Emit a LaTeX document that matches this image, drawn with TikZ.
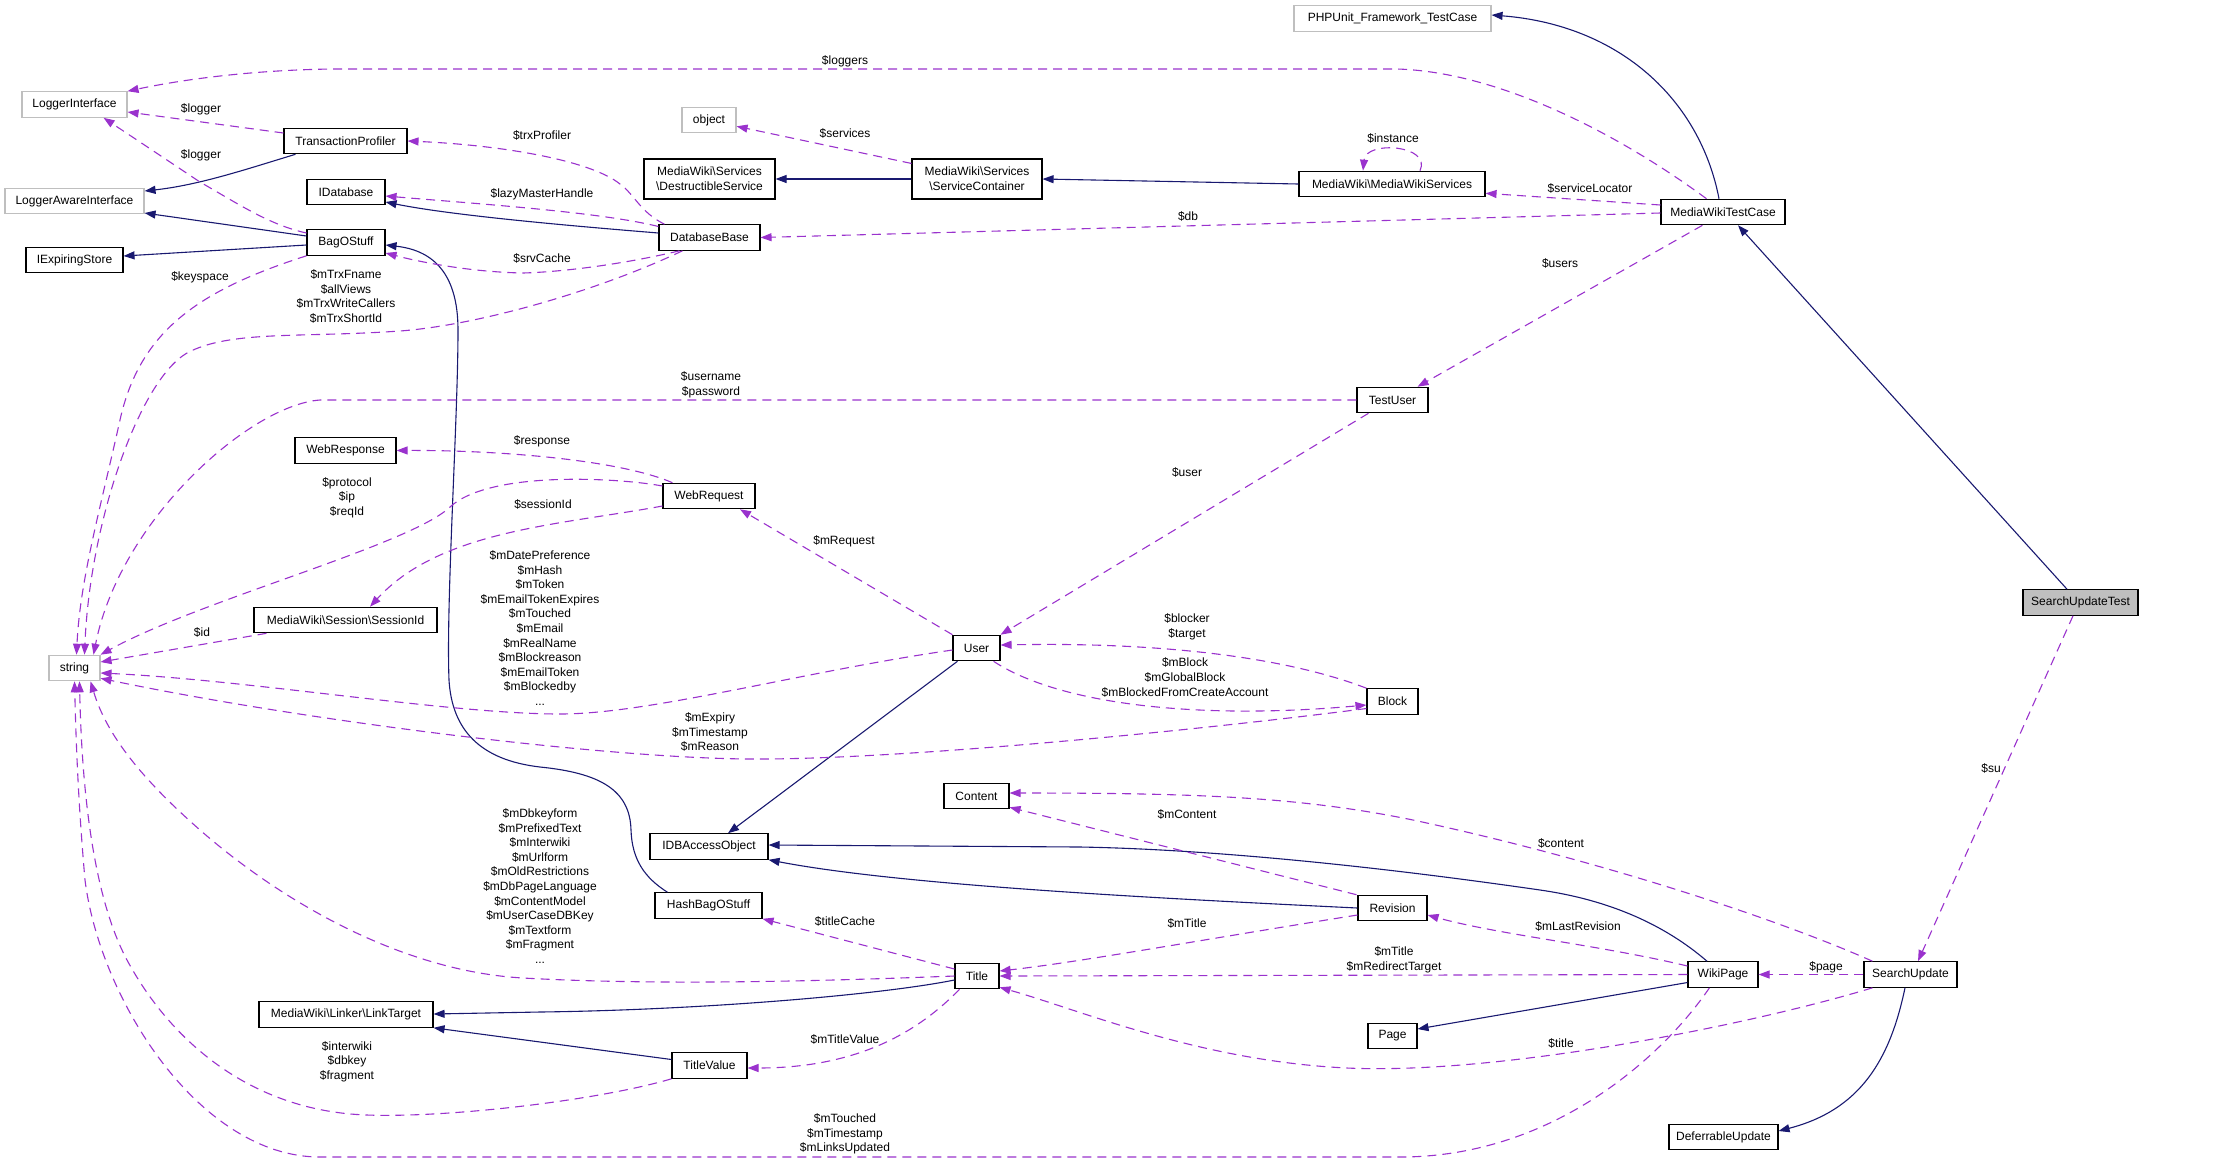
\documentclass[tikz,border=0pt]{standalone}
\usepackage{fontspec}
\setmainfont{Liberation Sans}
\usetikzlibrary{arrows.meta}
\definecolor{navy}{HTML}{191970}
\definecolor{orch}{HTML}{9A32CD}
\definecolor{lgray}{HTML}{BFBFBF}
\begin{document}
\begin{tikzpicture}[x=1pt,y=-1pt,
  font=\fontsize{12}{14.6}\selectfont,
  cls/.style={draw=black,line width=1.1pt,fill=white,inner sep=0pt,minimum height=25.5pt,align=center},
  gcls/.style={cls,draw=lgray},
  cur/.style={cls,fill=lgray},
  inh/.style={draw=navy,line width=1.1pt,-{Triangle[length=11pt,width=8pt]}},
  prop/.style={draw=orch,line width=1.1pt,dash pattern=on 9pt off 6pt,-{Triangle[length=11pt,width=8pt]}},
  lbl/.style={inner sep=0pt,align=center}]
\useasboundingbox (0,0) rectangle (2213,1163);
% nodes
\node[gcls,minimum width=105pt] (LI) at (74.5,104.5) {LoggerInterface};
\node[cls,minimum width=123pt] (TP) at (345.5,141) {TransactionProfiler};
\node[gcls,minimum width=139pt] (LAI) at (74.5,201) {LoggerAwareInterface};
\node[cls,minimum width=78pt] (IDb) at (346,192) {IDatabase};
\node[cls,minimum width=78pt] (BOS) at (346,242.5) {BagOStuff};
\node[cls,minimum width=97pt] (IES) at (74.5,260) {IExpiringStore};
\node[gcls,minimum width=54pt] (Obj) at (709,120) {object};
\node[cls,minimum width=131pt,minimum height=40pt] (DS) at (709.5,179) {MediaWiki\textbackslash Services\\\textbackslash DestructibleService};
\node[cls,minimum width=130pt,minimum height=40pt] (SC) at (977,179) {MediaWiki\textbackslash Services\\\textbackslash ServiceContainer};
\node[cls,minimum width=101pt] (DB) at (709.5,237.5) {DatabaseBase};
\node[gcls,minimum width=197pt] (PHP) at (1392.5,18.5) {PHPUnit\_Framework\_TestCase};
\node[cls,minimum width=186pt] (MWS) at (1392,184) {MediaWiki\textbackslash MediaWikiServices};
\node[cls,minimum width=124pt] (MWTC) at (1723,212) {MediaWikiTestCase};
\node[cls,minimum width=71pt] (TU) at (1392.5,400) {TestUser};
\node[cur,minimum width=115pt] (SUT) at (2080.5,602.5) {SearchUpdateTest};
\node[cls,minimum width=101pt] (WRs) at (345.5,450.5) {WebResponse};
\node[cls,minimum width=183pt] (SID) at (345.5,620) {MediaWiki\textbackslash Session\textbackslash SessionId};
\node[gcls,minimum width=51pt] (Str) at (74.5,668) {string};
\node[cls,minimum width=92pt] (WR) at (709,496) {WebRequest};
\node[cls,minimum width=47pt] (User) at (976.5,648) {User};
\node[cls,minimum width=51pt] (Block) at (1392.5,701.5) {Block};
\node[cls,minimum width=174pt] (LT) at (346,1014.5) {MediaWiki\textbackslash Linker\textbackslash LinkTarget};
\node[cls,minimum width=65pt] (Cont) at (976.5,796) {Content};
\node[cls,minimum width=118pt] (IDBA) at (709,846.5) {IDBAccessObject};
\node[cls,minimum width=107pt] (HBS) at (708.5,905.5) {HashBagOStuff};
\node[cls,minimum width=44pt] (Title) at (977,976) {Title};
\node[cls,minimum width=75pt] (TV) at (709.5,1065.5) {TitleValue};
\node[cls,minimum width=69pt] (Rev) at (1392.5,908) {Revision};
\node[cls,minimum width=49pt] (Page) at (1392.5,1036) {Page};
\node[cls,minimum width=70pt] (WP) at (1723,974.5) {WikiPage};
\node[cls,minimum width=93pt] (SU) at (1910.5,974.5) {SearchUpdate};
\node[cls,minimum width=109pt] (DU) at (1723.5,1137) {DeferrableUpdate};
% inheritance
\draw[inh] ([xshift=12pt]TP.south west) .. controls (250,168) and (200,185) .. ([yshift=10pt]LAI.east);
\draw[inh] ([yshift=6.5pt]BOS.west) -- ([yshift=-12pt]LAI.east);
\draw[inh] ([yshift=-2.5pt]BOS.west) -- ([yshift=4pt]IES.east);
\draw[inh] ([yshift=4.5pt]DB.west) .. controls (560,225) and (450,215) .. ([yshift=-10pt]IDb.east);
\draw[inh] ([xshift=13pt]HBS.north west) .. controls (645,878) and (632,860) .. (631,830) .. controls (630,790) and (600,773) .. (540,767) .. controls (480,760) and (452,730) .. (449,680) .. controls (446,600) and (458,420) .. (458,330) .. controls (458,270) and (430,250) .. ([yshift=-2.5pt]BOS.east);
\draw[inh] ([xshift=5pt]User.south west) -- ([xshift=19pt]IDBA.north);
\draw[inh] ([xshift=-16pt]WP.north) .. controls (1665,925) and (1610,900) .. (1540,890) .. controls (1450,877) and (1250,850) .. (1080,847) -- ([yshift=1.5pt]IDBA.east);
\draw[inh] (Rev.west) .. controls (1150,898) and (900,885) .. (IDBA.south east);
\draw[inh] ([yshift=-4pt]Title.west) .. controls (880,995) and (700,1010) .. (540,1012) -- ([yshift=0.5pt]LT.east);
\draw[inh] ([yshift=6pt]TV.west) -- (LT.south east);
\draw[inh] ([yshift=-8pt]WP.west) -- ([yshift=7pt]Page.east);
\draw[inh] ([xshift=-5.5pt]SU.south) .. controls (1890,1060) and (1860,1110) .. ([yshift=6pt]DU.east);
\draw[inh] ([xshift=-4pt]MWTC.north) .. controls (1700,100) and (1620,25) .. ([yshift=3.5pt]PHP.east);
\draw[inh] ([xshift=-13.5pt]SUT.north) -- ([xshift=15pt]MWTC.south);
\draw[inh] (MWS.west) -- (SC.east);
\draw[inh] (SC.west) -- (DS.east);
% properties
\draw[prop] ([xshift=46pt]MWTC.north west) .. controls (1620,135) and (1500,72) .. (1397,69) -- (333,69) .. controls (250,70) and (180,80) .. (LI.north east);
\draw[prop] ([yshift=8pt]TP.west) -- ([yshift=-7.5pt]LI.east);
\draw[prop] ([yshift=9.5pt]BOS.west) .. controls (270,225) and (240,205) .. (200,182) -- ([xshift=-24pt]LI.south east);
\draw[prop] ([xshift=6pt]DB.north west) .. controls (640,212) and (635,195) .. (620,184) .. controls (590,160) and (500,145) .. (TP.east);
\draw[prop] ([yshift=11pt]DB.west) .. controls (600,212) and (480,204) .. ([yshift=-4pt]IDb.east);
\draw[prop] ([xshift=21pt]DB.south west) .. controls (620,265) and (560,272) .. (523,273) .. controls (470,272) and (420,262) .. ([yshift=-10.5pt]BOS.east);
\draw[prop] ([xshift=24pt]DB.south west) .. controls (600,290) and (480,325) .. (400,331) .. controls (300,338) and (230,330) .. (187,353) .. controls (140,380) and (90,520) .. ([xshift=10pt]Str.north);
\draw[prop] (BOS.south west) .. controls (200,290) and (140,330) .. (120,420) .. controls (100,510) and (80,580) .. ([xshift=2pt]Str.north);
\draw[prop] (TU.west) -- (320,400) .. controls (250,405) and (120,520) .. ([xshift=19pt]Str.north);
\draw[prop] ([xshift=10pt]WR.north west) .. controls (620,460) and (500,450) .. (WRs.east);
\draw[prop] ([yshift=-10pt]WR.west) .. controls (560,525) and (440,530) .. ([xshift=24.5pt]SID.north);
\draw[prop] ([yshift=10pt]WR.west) .. controls (620,478) and (490,470) .. (450,507) .. controls (410,545) and (200,600) .. (Str.north east);
\draw[prop] ([xshift=13pt]SID.south west) -- ([yshift=6pt]Str.east);
\draw[prop] (User.north west) -- ([xshift=31pt]WR.south);
\draw[prop] ([xshift=12pt]TU.south west) -- (User.north east);
\draw[prop] ([xshift=42pt]MWTC.south west) -- ([xshift=-11pt]TU.north east);
\draw[prop] ([yshift=-2pt]User.west) .. controls (800,672) and (650,714) .. (560,714) .. controls (450,714) and (250,680) .. ([yshift=-5pt]Str.east);
\draw[prop] (Block.north west) .. controls (1280,655) and (1150,642) .. ([yshift=3pt]User.east);
\draw[prop] ([xshift=-7pt]User.south east) .. controls (1060,705) and (1200,720) .. ([yshift=-3.5pt]Block.west);
\draw[prop] ([yshift=-7pt]Block.west) .. controls (1200,730) and (900,760) .. (750,759) .. controls (600,758) and (300,720) .. ([yshift=3pt]Str.south east);
\draw[prop] (Title.west) .. controls (800,982) and (650,985) .. (523,978) .. controls (400,971) and (280,900) .. (200,830) .. controls (150,786) and (108,740) .. ([xshift=-10pt]Str.south east);
\draw[prop] ([yshift=7pt]Title.west) -- (HBS.south east);
\draw[prop] ([xshift=5pt]Title.south west) .. controls (920,1030) and (860,1068) .. ([yshift=-2.5pt]TV.east);
\draw[prop] (TV.south west) .. controls (600,1100) and (450,1118) .. (367,1115) .. controls (250,1111) and (170,1040) .. (127,960) .. controls (95,900) and (82,800) .. ([xshift=5pt]Str.south);
\draw[prop] ([xshift=22pt]WP.south west) .. controls (1660,1060) and (1550,1157) .. (1400,1157) -- (320,1157) .. controls (200,1157) and (100,1000) .. (85,880) .. controls (78,800) and (76,740) .. (Str.south);
\draw[prop] ([xshift=-1pt]Rev.north west) -- ([yshift=2pt]Cont.south east);
\draw[prop] ([yshift=-7pt]Rev.west) .. controls (1200,940) and (1080,962) .. ([yshift=5pt]Title.east);
\draw[prop] ([yshift=8.5pt]WP.west) .. controls (1600,945) and (1500,935) .. ([yshift=-7pt]Rev.east);
\draw[prop] (WP.west) -- (Title.east);
\draw[prop] (SU.west) -- (WP.east);
\draw[prop] ([xshift=9pt]SU.north west) .. controls (1780,920) and (1600,860) .. (1413,820) .. controls (1300,797) and (1200,793) .. ([yshift=3pt]Cont.east);
\draw[prop] ([xshift=9pt]SU.south west) .. controls (1750,1025) and (1500,1075) .. (1347,1068) .. controls (1200,1061) and (1080,1010) .. ([yshift=2pt]Title.south east);
\draw[prop] ([xshift=-7.5pt]SUT.south) -- ([xshift=7.5pt]SU.north);
\draw[prop] ([xshift=28pt]MWS.north) .. controls (1432,145) and (1366,140) .. ([xshift=-29pt]MWS.north);
\draw[prop] ([yshift=-5pt]SC.north west) -- ([yshift=7pt]Obj.south east);
\draw[prop] ([yshift=7pt]MWTC.west) -- ([yshift=4pt]MWS.south east);
\draw[prop] ([yshift=-1pt]MWTC.west) -- (DB.east);
% labels
\node[lbl] (l1) at (845,61) {\$loggers};
\node[lbl] (l2) at (201,109) {\$logger};
\node[lbl] (l3) at (201,155) {\$logger};
\node[lbl] (l4) at (542,135) {\$trxProfiler};
\node[lbl] (l5) at (845,133) {\$services};
\node[lbl] (l6) at (1393,138) {\$instance};
\node[lbl] (l7) at (542,194) {\$lazyMasterHandle};
\node[lbl] (l8) at (1590,188) {\$serviceLocator};
\node[lbl] (l9) at (1188,216) {\$db};
\node[lbl] (l10) at (542,258) {\$srvCache};
\node[lbl] (l11) at (200,277) {\$keyspace};
\node[lbl] (l12) at (346,296.5) {\$mTrxFname\\\$allViews\\\$mTrxWriteCallers\\\$mTrxShortId};
\node[lbl] (l13) at (1560,263) {\$users};
\node[lbl] (l14) at (711,384.5) {\$username\\\$password};
\node[lbl] (l15) at (542,441) {\$response};
\node[lbl] (l16) at (347,497.5) {\$protocol\\\$ip\\\$reqId};
\node[lbl] (l17) at (1187,472) {\$user};
\node[lbl] (l18) at (543,504) {\$sessionId};
\node[lbl] (l19) at (844,541) {\$mRequest};
\node[lbl] (l20) at (540,628) {\$mDatePreference\\\$mHash\\\$mToken\\\$mEmailTokenExpires\\\$mTouched\\\$mEmail\\\$mRealName\\\$mBlockreason\\\$mEmailToken\\\$mBlockedby\\...};
\node[lbl] (l21) at (202,632) {\$id};
\node[lbl] (l22) at (1187,627) {\$blocker\\\$target};
\node[lbl] (l23) at (1185,677.5) {\$mBlock\\\$mGlobalBlock\\\$mBlockedFromCreateAccount};
\node[lbl] (l24) at (710,732) {\$mExpiry\\\$mTimestamp\\\$mReason};
\node[lbl] (l25) at (1991,768) {\$su};
\node[lbl] (l26) at (1187,814) {\$mContent};
\node[lbl] (l27) at (1561,843) {\$content};
\node[lbl] (l28) at (540,886) {\$mDbkeyform\\\$mPrefixedText\\\$mInterwiki\\\$mUrlform\\\$mOldRestrictions\\\$mDbPageLanguage\\\$mContentModel\\\$mUserCaseDBKey\\\$mTextform\\\$mFragment\\...};
\node[lbl] (l29) at (845,921) {\$titleCache};
\node[lbl] (l30) at (1187,923) {\$mTitle};
\node[lbl] (l31) at (1578,926) {\$mLastRevision};
\node[lbl] (l32) at (1394,959.5) {\$mTitle\\\$mRedirectTarget};
\node[lbl] (l33) at (1826,967) {\$page};
\node[lbl] (l34) at (845,1039) {\$mTitleValue};
\node[lbl] (l35) at (1561,1043) {\$title};
\node[lbl] (l36) at (347,1061.5) {\$interwiki\\\$dbkey\\\$fragment};
\node[lbl] (l37) at (845,1134) {\$mTouched\\\$mTimestamp\\\$mLinksUpdated};
\end{tikzpicture}
\end{document}
